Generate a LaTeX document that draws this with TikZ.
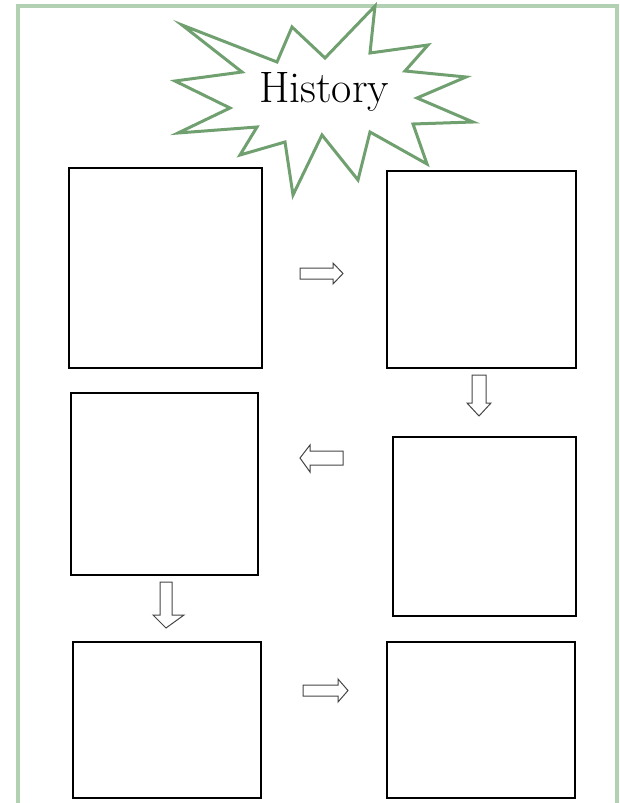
\documentclass[tikz,border=0pt]{standalone}
\usepackage{tikz}
\definecolor{framegreen}{RGB}{178,208,178}
\definecolor{stargreen}{RGB}{112,160,112}
\definecolor{arrowgray}{RGB}{70,70,70}
\tikzset{
  panel/.style={draw=black, line width=1.7pt, fill=white, anchor=north west, inner sep=0pt},
  blockarrow/.style={draw=arrowgray, line width=1pt, fill=white, line join=miter},
}
\begin{document}
\begin{tikzpicture}[x=1pt,y=-1pt]
\useasboundingbox (0,0) rectangle (619,803);
\fill[white] (0,0) rectangle (619,803);
% frame
\begin{scope}
\clip (0,0) rectangle (619,803);
\draw[framegreen, line width=4.5pt] (18,6) rectangle (617,812);
\end{scope}
% star
\draw[stargreen, line width=3pt, fill=white, line join=miter]
 (375,6) -- (370,53) -- (428,45) -- (405,71) -- (466,77) -- (417,98)
 -- (473,122) -- (413,124) -- (427,164) -- (370,132) -- (358,180)
 -- (322,135) -- (293,195) -- (285,142) -- (240,155) -- (257,127)
 -- (178,133) -- (230,108) -- (175,81) -- (242,72) -- (182,25)
 -- (277,62) -- (292,27) -- (325,58) -- cycle;
\node[anchor=base, inner sep=0pt] (title) at (324,102) {\fontsize{44}{44}\selectfont History};
% panels
\node[panel, minimum width=193pt, minimum height=200pt] (p1) at (68,167) {};
\node[panel, minimum width=189pt, minimum height=197pt] (p2) at (386,170) {};
\node[panel, minimum width=187pt, minimum height=182pt] (p3) at (70,392) {};
\node[panel, minimum width=183pt, minimum height=179pt, line width=2pt] (p4) at (392,436) {};
\node[panel, minimum width=188pt, minimum height=156pt] (p5) at (72,641) {};
\node[panel, minimum width=188pt, minimum height=156pt] (p6) at (386,641) {};
% block arrows
% right arrow 1
\draw[blockarrow] (300,268) -- (333,268) -- (333,263) -- (343,273.5) -- (333,284) -- (333,279) -- (300,279) -- cycle;
% down arrow 1
\draw[blockarrow] (472,375) -- (486,375) -- (486,403) -- (491,403) -- (479,416) -- (467,403) -- (472,403) -- cycle;
% left arrow
\draw[blockarrow] (343,451) -- (310,451) -- (310,445) -- (300,458) -- (310,472) -- (310,465) -- (343,465) -- cycle;
% down arrow 2
\draw[blockarrow] (160,582) -- (172,582) -- (172,615) -- (184,615) -- (166,628) -- (153,615) -- (160,615) -- cycle;
% right arrow 2
\draw[blockarrow] (303,685) -- (338,685) -- (338,679) -- (348,690.5) -- (338,702) -- (338,696) -- (303,696) -- cycle;
\end{tikzpicture}
\end{document}
